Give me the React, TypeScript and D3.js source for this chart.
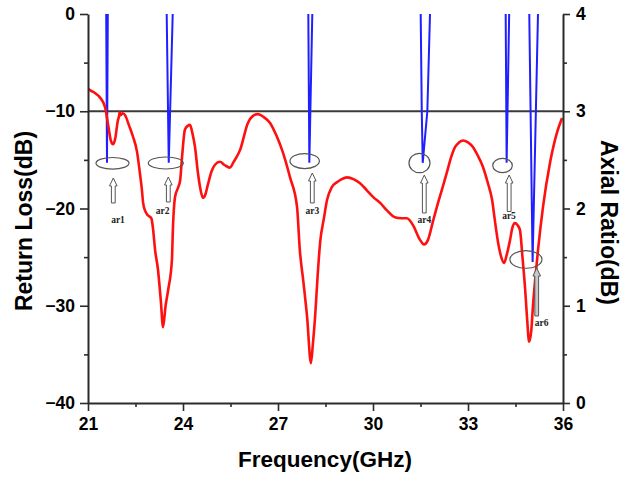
import React, { useEffect, useRef } from "react";
import * as d3 from "d3";

// ---------- data ----------
const xTicks = [21, 24, 27, 30, 33, 36];
const xMinorTicks = [22.5, 25.5, 28.5, 31.5, 34.5];
const yLeftTicks = [0, -10, -20, -30, -40];
const yLeftMinorTicks = [-5, -15, -25, -35];
const yRightTicks = [0, 1, 2, 3, 4];
const yRightMinorTicks = [0.5, 1.5, 2.5, 3.5];

// Return loss (red)
const rlFreq = [
  21.0, 21.1, 21.25, 21.38, 21.54, 21.64, 21.72, 21.79, 21.86, 21.94, 21.98, 22.0, 22.03, 22.1, 22.17,
  22.3, 22.42, 22.55, 22.64, 22.7, 22.74, 22.8, 22.89, 23.0, 23.05, 23.12, 23.21, 23.3, 23.37, 23.45,
  23.53, 23.65, 23.68, 23.75, 23.85, 23.91, 23.97, 24.06, 24.15, 24.22, 24.3, 24.38, 24.47, 24.55, 24.63,
  24.7, 24.79, 24.9, 25.01, 25.17, 25.3, 25.48, 25.6, 25.8, 26.05, 26.2, 26.37, 26.55, 26.75, 26.95,
  27.13, 27.38, 27.6, 27.69, 27.8, 27.92, 28.04, 28.1, 28.17, 28.25, 28.33, 28.45, 28.55, 28.7, 28.86,
  29.0, 29.18, 29.4, 29.59, 29.8, 30.0, 30.25, 30.44, 30.69, 30.9, 31.07, 31.26, 31.48, 31.61, 31.74,
  31.88, 32.02, 32.2, 32.34, 32.46, 32.59, 32.72, 32.84, 33.0, 33.16, 33.3, 33.47, 33.62, 33.76, 33.86,
  33.95, 34.05, 34.14, 34.22, 34.33, 34.4, 34.48, 34.56, 34.64, 34.72, 34.8, 34.87, 34.93, 35.0, 35.05,
  35.13, 35.21, 35.37, 35.59, 35.81, 35.97,
];
const rlDb = [
  -7.7, -7.9, -8.2, -8.6, -9.6, -11.5, -13.0, -13.4, -12.8, -11.0, -10.5, -10.1, -10.4, -10.2, -10.4,
  -11.5, -12.6, -14.2, -16.4, -18.0, -19.4, -20.2, -20.7, -21.0, -22.0, -24.3, -26.3, -29.5, -32.2, -30.0,
  -28.4, -25.3, -22.2, -18.8, -17.8, -17.1, -14.7, -11.9, -11.5, -11.4, -12.3, -13.7, -16.3, -18.0, -18.9,
  -18.6, -17.5, -16.2, -15.5, -15.2, -15.5, -15.8, -15.2, -14.0, -11.2, -10.5, -10.3, -10.6, -11.2, -12.5,
  -14.0, -16.8, -19.8, -24.3, -27.5, -31.2, -35.9, -34.0, -31.2, -27.0, -23.5, -21.0, -19.1, -17.8, -17.3,
  -17.0, -16.8, -17.0, -17.4, -18.1, -18.8, -19.5, -20.2, -20.9, -21.0, -21.0, -21.7, -23.2, -23.7, -23.2,
  -21.5, -19.8, -17.8, -16.2, -14.8, -13.7, -13.2, -13.0, -13.2, -13.7, -14.5, -15.7, -17.3, -19.1, -21.5,
  -23.5, -25.0, -25.6, -24.8, -23.2, -22.0, -21.5, -21.7, -22.2, -25.0, -28.1, -31.5, -33.7, -32.5, -30.1,
  -27.0, -24.3, -19.8, -15.3, -12.2, -10.7,
];

// Axial ratio (blue); null separates the dips
const arFreq = [
  21.575, 21.6, 21.625, null,
  23.485, 23.55, 23.675, null,
  27.957, 27.99, 28.083, null,
  31.506, 31.54, 31.57, 31.716, 31.8, null,
  34.19, 34.22, 34.3, null,
  34.935, 35.04, 35.21,
];
const arValue = [
  4.0, 2.47, 4.0, null,
  4.0, 2.47, 4.0, null,
  4.0, 2.47, 4.0, null,
  4.0, 3.0, 2.47, 3.0, 4.0, null,
  4.0, 2.47, 4.0, null,
  4.0, 1.45, 4.0,
];

// annotations
const markerLabels = ["ar1", "ar2", "ar3", "ar4", "ar5", "ar6"];
const ellipseFreq = [21.774, 23.457, 27.843, 31.468, 34.09, 34.83];
const ellipseDb = [-15.35, -15.32, -15.12, -15.32, -15.58, -25.24];
const ellipseRx = [16.5, 17.5, 14.7, 10.5, 9.8, 16];
const ellipseRy = [5.8, 6, 7.5, 9.7, 7.2, 8.8];
const arrowFreq = [21.799, 23.536, 28.083, 31.62, 34.3, 35.17];
const arrowTipDb = [-16.86, -16.76, -16.35, -16.56, -16.56, -26.12];
const arrowTailDb = [-19.43, -19.33, -19.43, -20.46, -20.31, -31.05];
const labelFreq = [21.947, 23.359, 28.083, 31.62, 34.295, 35.327];
const labelDb = [-21.15, -20.21, -20.26, -21.18, -20.82, -31.74];

// ---------- layout ----------
const W = 625;
const H = 478;
const M = { left: 88, right: 563, top: 14, bottom: 403 };
const FONT = "Arial, 'Liberation Sans', sans-serif";
const AXIS_COLOR = "#2b2b2b";

export default function App() {
  const leftRef = useRef<SVGGElement>(null);
  const leftMinorRef = useRef<SVGGElement>(null);
  const rightRef = useRef<SVGGElement>(null);
  const rightMinorRef = useRef<SVGGElement>(null);
  const bottomRef = useRef<SVGGElement>(null);
  const bottomMinorRef = useRef<SVGGElement>(null);

  const x = d3.scaleLinear().domain([21, 36]).range([M.left, M.right]);
  const yL = d3.scaleLinear().domain([-40, 0]).range([M.bottom, M.top]);
  const yR = d3.scaleLinear().domain([0, 4]).range([M.bottom, M.top]);

  useEffect(() => {
    const style = (g: any, showDomain: boolean) => {
      g.attr("font-family", FONT).attr("font-size", 17.5).attr("font-weight", "bold");
      g.selectAll(".domain")
        .attr("stroke", showDomain ? AXIS_COLOR : "none")
        .attr("stroke-width", 2);
      g.selectAll(".tick line").attr("stroke", AXIS_COLOR).attr("stroke-width", 1.6);
      g.selectAll(".tick text").attr("fill", "#000");
    };
    const l = d3.select(leftRef.current!);
    l.call(d3.axisLeft(yL).tickValues(yLeftTicks).tickSize(8).tickSizeOuter(0).tickPadding(5).tickFormat(d3.format("d")) as any);
    style(l, true);
    const lm = d3.select(leftMinorRef.current!);
    lm.call(d3.axisLeft(yL).tickValues(yLeftMinorTicks).tickSize(4).tickSizeOuter(0).tickFormat(() => "") as any);
    style(lm, false);

    const r = d3.select(rightRef.current!);
    r.call(d3.axisRight(yR).tickValues(yRightTicks).tickSize(7).tickSizeOuter(0).tickPadding(6).tickFormat(d3.format("d")) as any);
    style(r, true);
    const rm = d3.select(rightMinorRef.current!);
    rm.call(d3.axisRight(yR).tickValues(yRightMinorTicks).tickSize(4).tickSizeOuter(0).tickFormat(() => "") as any);
    style(rm, false);

    const b = d3.select(bottomRef.current!);
    b.call(d3.axisBottom(x).tickValues(xTicks).tickSize(8).tickSizeOuter(0).tickPadding(7).tickFormat(d3.format("d")) as any);
    style(b, true);
    const bm = d3.select(bottomMinorRef.current!);
    bm.call(d3.axisBottom(x).tickValues(xMinorTicks).tickSize(4).tickSizeOuter(0).tickFormat(() => "") as any);
    style(bm, false);
  }, []);

  const rlLine = d3
    .line<number>()
    .x((_, i) => x(rlFreq[i]))
    .y((d) => yL(d))
    .curve(d3.curveMonotoneX);
  const arLine = d3
    .line<number | null>()
    .defined((d) => d !== null)
    .x((_, i) => x(arFreq[i] as number))
    .y((d) => yR(d as number));

  const arrowPath = (i: number) => {
    const cx = x(arrowFreq[i]);
    const tip = yL(arrowTipDb[i]);
    const tail = yL(arrowTailDb[i]);
    const hh = 8;
    const hw = 3.8;
    const sw = 1.9;
    return `M${cx},${tip} L${cx + hw},${tip + hh} L${cx + sw},${tip + hh} L${cx + sw},${tail} L${cx - sw},${tail} L${cx - sw},${tip + hh} L${cx - hw},${tip + hh} Z`;
  };

  return (
    <svg
      width={W}
      height={H}
      style={{ position: "absolute", left: 0, top: 0, background: "#fff" }}
    >
      <defs>
        <clipPath id="plot">
          <rect x={M.left} y={M.top} width={M.right - M.left} height={M.bottom - M.top} />
        </clipPath>
      </defs>
      <rect x={0} y={0} width={W} height={H} fill="#fff" />

      {/* reference line at -10 dB / AR = 3 */}
      <line
        x1={M.left}
        x2={M.right}
        y1={yL(-10)}
        y2={yL(-10)}
        stroke="#3a3a3a"
        strokeWidth={2}
      />

      <g clipPath="url(#plot)">
        <path d={arLine(arValue) || ""} fill="none" stroke="#1f1fff" strokeWidth={2} />
        <path d={rlLine(rlDb) || ""} fill="none" stroke="#ff1010" strokeWidth={2.6} strokeLinejoin="round" />
      </g>

      {/* annotations */}
      {markerLabels.map((lab, i) => (
        <g key={lab}>
          <ellipse
            cx={x(ellipseFreq[i])}
            cy={yL(ellipseDb[i])}
            rx={ellipseRx[i]}
            ry={ellipseRy[i]}
            fill="none"
            stroke="#555"
            strokeWidth={1.2}
          />
          <path d={arrowPath(i)} fill={i === 5 ? "#c8c8c8" : "#fff"} stroke="#555" strokeWidth={1} />
          <text
            x={x(labelFreq[i])}
            y={yL(labelDb[i])}
            textAnchor="middle"
            dominantBaseline="central"
            fontFamily="'Times New Roman', 'Liberation Serif', serif"
            fontWeight="bold"
            fontSize={9.5}
            fill="#222"
          >
            {lab}
          </text>
        </g>
      ))}

      <g ref={leftMinorRef} transform={`translate(${M.left},0)`} />
      <g ref={rightMinorRef} transform={`translate(${M.right},0)`} />
      <g ref={bottomMinorRef} transform={`translate(0,${M.bottom})`} />
      <g ref={leftRef} transform={`translate(${M.left},0)`} />
      <g ref={rightRef} transform={`translate(${M.right},0)`} />
      <g ref={bottomRef} transform={`translate(0,${M.bottom})`} />

      {/* axis titles */}
      <text
        transform={`translate(32,221) rotate(-90)`}
        textAnchor="middle"
        fontFamily={FONT}
        fontWeight="bold"
        fontSize={23}
        fill="#000"
      >
        Return Loss(dB)
      </text>
      <text
        transform={`translate(601,222.5) rotate(90)`}
        textAnchor="middle"
        fontFamily={FONT}
        fontWeight="bold"
        fontSize={23}
        fill="#000"
      >
        Axial Ratio(dB)
      </text>
      <text
        x={325}
        y={467}
        textAnchor="middle"
        fontFamily={FONT}
        fontWeight="bold"
        fontSize={22.5}
        fill="#000"
      >
        Frequency(GHz)
      </text>
    </svg>
  );
}
